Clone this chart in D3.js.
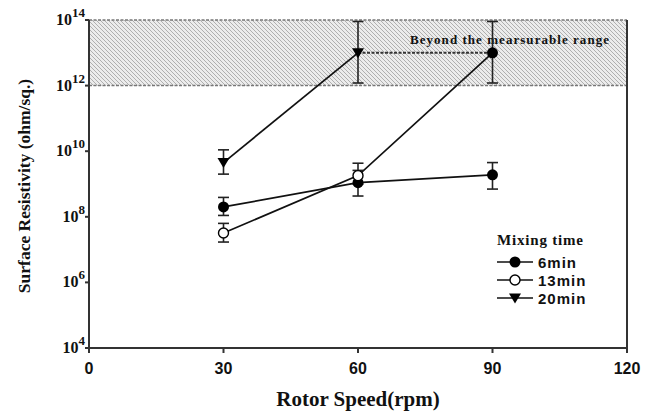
<!DOCTYPE html>
<html>
<head>
<meta charset="utf-8">
<script src="https://cdn.jsdelivr.net/npm/d3@7"></script>
<style>
  body { margin: 0; background: #fff; }
  svg { display: block; }
  .serif { font-family: "Liberation Serif", "Times New Roman", serif; font-weight: bold; }
  .sans { font-family: "Liberation Sans", Arial, sans-serif; font-weight: bold; }
</style>
</head>
<body>
<div id="chart"></div>
<script>
// rotor speeds (rpm)
var speeds = [30, 60, 90];
var seriesNames = ["6min", "13min", "20min"];

// surface resistivity (ohm/sq.)
var min6 = [2.0e8, 1.1e9, 1.9e9];
var min13 = [3.2e7, 1.8e9, 1.0e13];
var min20 = [4.5e9, 1.0e13];

// error bars [low, high]
var err6 = [[1.1e8, 3.9e8], [4.3e8, 2.6e9], [7.0e8, 4.5e9]];
var err13 = [[1.7e7, 6.3e7], [1.0e9, 4.3e9], [1.2e12, 9.0e13]];
var err20 = [[2.0e9, 1.1e10], [1.2e12, 9.0e13]];

// 20min beyond range at 90 rpm (dashed)
var beyond20 = [[60, 1.0e13], [90, 1.0e13]];

var xTicks = [0, 30, 60, 90, 120];
var yTicks = [4, 6, 8, 10, 12, 14];
var rangeLimit = [1e12, 1e14];

var w = 649, h = 412;
var ml = 89, mr = 627, mt = 20, mb = 348;

var svg = d3.select("#chart").append("svg").attr("width", w).attr("height", h);

var x = d3.scaleLinear().domain([0, 120]).range([ml, mr]);
var y = d3.scaleLog().domain([1e4, 1e14]).range([mb, mt]);

// hatch pattern
var defs = svg.append("defs");
var pat = defs.append("pattern")
  .attr("id", "hatch")
  .attr("patternUnits", "userSpaceOnUse")
  .attr("width", 4).attr("height", 4);
pat.append("rect").attr("width", 4).attr("height", 4).attr("fill", "#ececec");
pat.append("path")
  .attr("d", "M-1,-1 L5,5 M-1,3 L1,5 M3,-1 L5,1")
  .attr("stroke", "#a8a8a8").attr("stroke-width", 0.9);

svg.append("rect")
  .attr("x", x(0)).attr("y", y(rangeLimit[1]))
  .attr("width", x(120) - x(0))
  .attr("height", y(rangeLimit[0]) - y(rangeLimit[1]))
  .attr("fill", "url(#hatch)");

rangeLimit.forEach(function (v) {
  svg.append("line")
    .attr("x1", x(0)).attr("x2", x(120))
    .attr("y1", y(v)).attr("y2", y(v))
    .attr("stroke", "#777").attr("stroke-width", 1.5)
    .attr("stroke-dasharray", "3,1.5");
});

svg.append("text")
  .attr("class", "serif")
  .attr("x", 410).attr("y", 44)
  .attr("font-size", 13)
  .attr("textLength", 199)
  .attr("lengthAdjust", "spacing")
  .attr("fill", "#111")
  .text("Beyond the mearsurable range");

// axes frame
svg.append("line").attr("x1", x(0)).attr("x2", x(0)).attr("y1", mt).attr("y2", mb)
  .attr("stroke", "#333").attr("stroke-width", 2);
svg.append("line").attr("x1", x(120)).attr("x2", x(120)).attr("y1", mt).attr("y2", mb)
  .attr("stroke", "#333").attr("stroke-width", 2);
svg.append("line").attr("x1", x(0) - 1).attr("x2", x(120) + 1).attr("y1", mb).attr("y2", mb)
  .attr("stroke", "#333").attr("stroke-width", 2);

// x ticks
xTicks.forEach(function (t) {
  svg.append("line").attr("x1", x(t)).attr("x2", x(t)).attr("y1", mb).attr("y2", mb + 5)
    .attr("stroke", "#333").attr("stroke-width", 2);
  svg.append("text").attr("class", "sans")
    .attr("x", x(t)).attr("y", mb + 26)
    .attr("text-anchor", "middle").attr("font-size", 16).attr("fill", "#111")
    .text(t);
});

// y ticks
yTicks.forEach(function (p) {
  var yy = y(Math.pow(10, p));
  svg.append("line").attr("x1", x(0) - 4).attr("x2", x(0)).attr("y1", yy).attr("y2", yy)
    .attr("stroke", "#333").attr("stroke-width", 2);
  var t = svg.append("text").attr("class", "serif")
    .attr("x", x(0) - 4).attr("y", yy + 5)
    .attr("text-anchor", "end").attr("font-size", 16).attr("fill", "#111");
  t.append("tspan").text("10");
  t.append("tspan").attr("dy", -8).attr("font-size", 13).text(p);
});

// axis titles
svg.append("text").attr("class", "serif")
  .attr("x", 358).attr("y", 406)
  .attr("text-anchor", "middle").attr("font-size", 21).attr("fill", "#111")
  .text("Rotor Speed(rpm)");
svg.append("text").attr("class", "serif")
  .attr("transform", "translate(24,186) rotate(-90)")
  .attr("text-anchor", "middle").attr("dy", "0.35em").attr("font-size", 17.5).attr("fill", "#111")
  .text("Surface Resistivity (ohm/sq.)");

// series
var series = [
  { name: seriesNames[0], vals: min6, err: err6, marker: "filled" },
  { name: seriesNames[1], vals: min13, err: err13, marker: "open" },
  { name: seriesNames[2], vals: min20, err: err20, marker: "tri" }
];

var line = d3.line().x(function (d) { return x(d[0]); }).y(function (d) { return y(d[1]); });

svg.append("path")
  .attr("d", line(beyond20))
  .attr("fill", "none").attr("stroke", "#333").attr("stroke-width", 2)
  .attr("stroke-dasharray", "3,1.5");

function drawMarker(g, type, cx, cy) {
  if (type === "filled") {
    g.append("circle").attr("cx", cx).attr("cy", cy).attr("r", 5.5).attr("fill", "#000");
  } else if (type === "open") {
    g.append("circle").attr("cx", cx).attr("cy", cy).attr("r", 5)
      .attr("fill", "#fff").attr("stroke", "#000").attr("stroke-width", 1.4);
  } else {
    g.append("path")
      .attr("d", "M" + (cx - 6) + "," + (cy - 4.5) + " L" + (cx + 6) + "," + (cy - 4.5) + " L" + cx + "," + (cy + 5.5) + "Z")
      .attr("fill", "#000");
  }
}

series.forEach(function (s) {
  var pts = s.vals.map(function (v, i) { return [speeds[i], v]; });
  svg.append("path").attr("d", line(pts))
    .attr("fill", "none").attr("stroke", "#111").attr("stroke-width", 1.7);
});

series.forEach(function (s) {
  var g = svg.append("g");
  s.err.forEach(function (e, i) {
    var xx = x(speeds[i]);
    g.append("line").attr("x1", xx).attr("x2", xx).attr("y1", y(e[0])).attr("y2", y(e[1]))
      .attr("stroke", "#222").attr("stroke-width", 1.6);
    e.forEach(function (v) {
      g.append("line").attr("x1", xx - 5.5).attr("x2", xx + 5.5).attr("y1", y(v)).attr("y2", y(v))
        .attr("stroke", "#222").attr("stroke-width", 1.6);
    });
  });
});

series.forEach(function (s) {
  var g = svg.append("g");
  s.vals.forEach(function (v, i) {
    // points beyond the measurable range are shown solid
    var m = (s.marker === "open" && v >= rangeLimit[0]) ? "filled" : s.marker;
    drawMarker(g, m, x(speeds[i]), y(v));
  });
});

// legend
var lg = svg.append("g");
lg.append("text").attr("class", "serif")
  .attr("x", 497).attr("y", 245).attr("font-size", 15).attr("fill", "#111")
  .attr("textLength", 86).attr("lengthAdjust", "spacing")
  .text("Mixing time");
series.forEach(function (s, i) {
  var ly = 262 + i * 18;
  lg.append("line").attr("x1", 497).attr("x2", 533).attr("y1", ly).attr("y2", ly)
    .attr("stroke", "#111").attr("stroke-width", 1.7);
  drawMarker(lg, s.marker, 515, ly);
  lg.append("text").attr("class", "sans")
    .attr("x", 538).attr("y", ly + 5.5).attr("font-size", 15).attr("letter-spacing", 1)
    .attr("fill", "#111")
    .text(s.name);
});
</script>
</body>
</html>
